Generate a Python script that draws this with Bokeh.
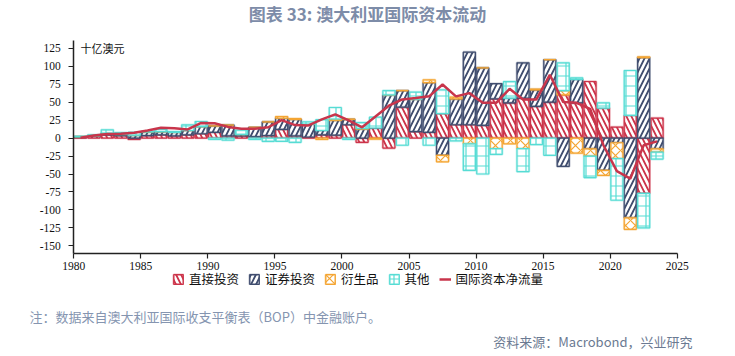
import numpy as np
from bokeh.plotting import figure
from bokeh.models import (Range1d, Label, Legend, LegendItem, FixedTicker, ColumnDataSource,
                          CustomJSTickFormatter)
from bokeh.embed import file_html
from bokeh.resources import INLINE

# ---------------- data (billion AUD) ----------------
years = list(range(1980, 2024))
direct = [1, 2.5, 4.5, 3.5, -2, 3.5, 4.5, 3, 4.5, 6,
          8, 3, 3, 2, 3.5, 12, 3, 1.5, 4.5, 4,
          18.5, -6, 14, -14, 43, 9, 8, 34, 18.5, 18.5,
          17.6, 54.6, 49, 55.6, 44, 50, 60, 49, 78.7, 41.7,
          15.3, 31.5, -77, 27.8]
portfolio = [1, 1, 2.5, 2, 4, 5, 4.5, 5, 6, 10,
             9, 15, 2, 13, 19, 15.7, 23, 18, 6, 20.5,
             7.5, 12.5, 0, 60, 23, 45, 69, -24, 36, 101,
             80, 21, 6.5, 49, 23, 59, -39.5, 32.5, -15, -45,
             -6.5, -111, 112, -15]
derivatives = [0, 0, 0, 0, 0, 0, 0, 0, 0, 0,
               0, 0, 0, 0, 0, 2.3, 1, 0, -2, 2,
               0.5, 1, -1.5, 0, 0, 0, 4, -9, 2.5, -8,
               0, -14.8, -8, -14.8, 1, 0, 6, -21, -10, -7,
               -22, -16, 1, -4.6]
other = [0.5, 1, 4.5, 2, 4, 1, 3, 1, 8, 7,
         -2, -3, 6, -2, -4.6, -4.5, -6, 3, 15, 16,
         -2, 8, 15, 6, -10, 10, -10, 33, -4, -37,
         -50, -8, 23, -32, -9, -24, 38.6, 2.3, -30, 7.3,
         -58, 62.5, -48, -9.7]
net = [0.5, 3.7, 5.6, 6, 7.4, 10.6, 14.4, 13.5, 12, 21,
       20.5, 15.5, 13, 13, 15, 25, 18, 17.6, 26, 33,
       24.5, 15, 30, 45, 53.7, 55.6, 58, 74.5, 58, 62.5,
       49, 49, 68.5, 53.7, 53.7, 88, 50, 49, 40.7, -10,
       -46, -56.5, -10, -4.6]
x_ticks = [1980, 1985, 1990, 1995, 2000, 2005, 2010, 2015, 2020, 2025]
y_ticks = [-150, -125, -100, -75, -50, -25, 0, 25, 50, 75, 100, 125]

series_names = ["直接投资", "证券投资", "衍生品", "其他"]
line_name = "国际资本净流量"
title_text = "图表 33: 澳大利亚国际资本流动"
unit_text = "十亿澳元"
note_text = "注：数据来自澳大利亚国际收支平衡表（BOP）中金融账户。"
source_text = "资料来源：Macrobond，兴业研究"

colors = ["#cc3349", "#3f4c6e", "#f4a533", "#56dcd4"]
hatches = ["\\", "/", "x", "+"]
line_color = "#c8354b"

# ---------------- geometry ----------------
W, H = 735, 356
X0, X1 = 1980, 2025          # axis extent in years
Y0, Y1 = -161, 135.7         # axis extent in values
px_x0, px_x1 = 73.3, 676.7   # pixel positions of X0, X1
px_y1, px_y0 = 40.0, 253.3   # pixel rows of Y1 (top), Y0 (bottom)
sx = (px_x1 - px_x0) / (X1 - X0)
sy = (px_y0 - px_y1) / (Y1 - Y0)
x_range = Range1d(X0 - px_x0 / sx, X1 + (W - px_x1) / sx)
y_range = Range1d(Y0 - (H - px_y0) / sy, Y1 + px_y1 / sy)

p = figure(width=W, height=H, output_backend="svg", toolbar_location=None,
           x_range=x_range, y_range=y_range,
           min_border=0, min_border_left=0, min_border_right=0,
           min_border_top=0, min_border_bottom=0)
p.outline_line_color = None
p.xgrid.visible = False
p.ygrid.visible = False
p.background_fill_color = "white"
p.border_fill_color = "white"

xs = np.array(years) + 0.5
pos_base = np.zeros(len(years))
neg_base = np.zeros(len(years))
legend_items = []
for name, vals, col, hat in zip(series_names, [direct, portfolio, derivatives, other], colors, hatches):
    v = np.array(vals, dtype=float)
    bottom = np.where(v >= 0, pos_base, neg_base)
    top = bottom + v
    pos_base = pos_base + np.where(v >= 0, v, 0)
    neg_base = neg_base + np.where(v < 0, v, 0)
    src = ColumnDataSource(dict(x=xs, bottom=bottom, top=top))
    halo = p.vbar(x="x", width=0.9, bottom="bottom", top="top", source=src,
                  fill_color="white", line_color=col, line_width=2.6, line_alpha=0.3)
    diag = hat in ("\\", "/")
    r = p.vbar(x="x", width=0.9, bottom="bottom", top="top", source=src,
               fill_color="white", fill_alpha=0.0, line_color=col, line_width=1.2,
               hatch_pattern=hat, hatch_color=col, hatch_scale=10,
               hatch_weight=1.8 if diag else 1.2)
    legend_items.append(LegendItem(label=name, renderers=[halo, r]))

lr = p.line(xs, net, line_color=line_color, line_width=2.5)
legend_items.append(LegendItem(label=line_name, renderers=[lr]))

# ---------------- axes (fixed inside the full-canvas frame) ----------------
for ax in (p.xaxis[0], p.yaxis[0]):
    ax.axis_line_color = "#222222"
    ax.axis_line_width = 1.5
    ax.major_tick_line_color = "#222222"
    ax.major_tick_line_width = 1.2
    ax.major_tick_out = 5
    ax.major_tick_in = 0
    ax.minor_tick_line_color = None
    ax.major_label_text_font = "Liberation Serif"
    ax.major_label_text_font_size = "11.5px"
    ax.major_label_text_color = "#111111"
p.xaxis[0].ticker = FixedTicker(ticks=x_ticks)
p.yaxis[0].ticker = FixedTicker(ticks=y_ticks)
p.yaxis[0].formatter = CustomJSTickFormatter(code="return String(tick)")
p.xaxis[0].formatter = CustomJSTickFormatter(code="return String(tick)")
p.xaxis[0].major_label_standoff = 3
p.yaxis[0].major_label_standoff = 8
p.xaxis[0].fixed_location = Y0
p.yaxis[0].fixed_location = X0
p.xaxis[0].bounds = (X0, X1)
p.yaxis[0].bounds = (Y0, Y1)

# ---------------- legend ----------------
legend = Legend(items=legend_items, orientation="horizontal", location=(170, 66),
                label_text_font="Noto Sans CJK SC", label_text_font_size="12.5px",
                label_text_color="#111111",
                glyph_width=12, glyph_height=12, spacing=9, label_standoff=5,
                padding=2, margin=0, border_line_alpha=0, background_fill_alpha=0)
p.add_layout(legend)

# ---------------- texts (screen units, origin bottom-left of canvas) ----------------
p.add_layout(Label(x=367, y=H - 13, x_units="screen", y_units="screen", text=title_text,
                   text_align="center", text_baseline="middle",
                   text_font="Noto Sans CJK SC", text_font_size="17px",
                   text_font_style="bold", text_color="#7d8ca8"))
p.add_layout(Label(x=80, y=H - 47, x_units="screen", y_units="screen", text=unit_text,
                   text_align="left", text_baseline="middle",
                   text_font="Noto Sans CJK SC", text_font_size="11px", text_color="#111111"))
p.add_layout(Label(x=29, y=H - 316, x_units="screen", y_units="screen", text=note_text,
                   text_align="left", text_baseline="middle",
                   text_font="Noto Sans CJK SC", text_font_size="13px", text_color="#8595b0"))
p.add_layout(Label(x=692, y=H - 341, x_units="screen", y_units="screen", text=source_text,
                   text_align="right", text_baseline="middle",
                   text_font="Noto Sans CJK SC", text_font_size="13px", text_color="#6b7a92"))

open("out.html", "w").write(file_html(p, INLINE))
